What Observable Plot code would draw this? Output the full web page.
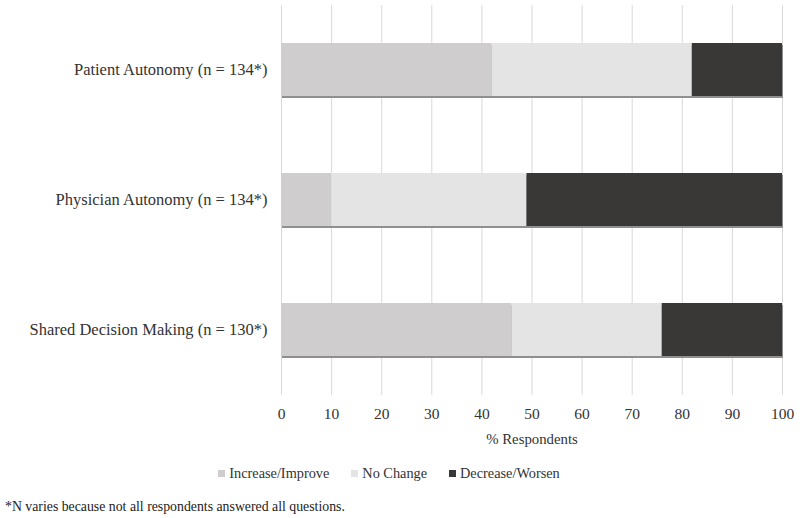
<!DOCTYPE html>
<html>
<head>
<meta charset="utf-8">
<script src="https://cdn.jsdelivr.net/npm/d3@7"></script>
<script src="https://cdn.jsdelivr.net/npm/@observablehq/plot@0.6"></script>
<style>
  body { margin: 0; background: #fff; font-family: "Liberation Serif", serif; }
  #chart { width: 800px; }
  svg text { font-family: "Liberation Serif", serif; }
  .legend { display: flex; justify-content: center; gap: 22px; font-size: 14.3px; color: #333; margin-top: 17px; padding-right: 22px; }
  .legend span.sw { display: inline-block; width: 7px; height: 7px; margin-right: 4px; vertical-align: 1px; }
  .note { font-size: 13.8px; color: #222; margin: 17px 0 0 5px; }
</style>
</head>
<body>
<div id="chart"></div>
<script>
const categories = ["Patient Autonomy (n = 134*)", "Physician Autonomy (n = 134*)", "Shared Decision Making (n = 130*)"];
const seriesNames = ["Increase/Improve", "No Change", "Decrease/Worsen"];
const increaseImprove = [42, 10, 46];
const noChange = [40, 39, 30];
const decreaseWorsen = [18, 51, 24];
const seriesColors = ["#cfcdce", "#e4e4e4", "#3a3836"];
const xTicks = [0, 10, 20, 30, 40, 50, 60, 70, 80, 90, 100];

const seriesValues = [increaseImprove, noChange, decreaseWorsen];
const data = [];
categories.forEach((c, i) => {
  seriesNames.forEach((s, j) => data.push({category: c, series: s, value: seriesValues[j][i]}));
});
const totals = categories.map((c, i) => ({category: c, total: seriesValues.reduce((a, v) => a + v[i], 0)}));

const plot = Plot.plot({
  width: 800,
  height: 448,
  marginLeft: 281,
  marginRight: 18,
  marginTop: 5,
  marginBottom: 53,
  style: {fontFamily: "'Liberation Serif', serif", fontSize: "15px", color: "#333", background: "#fff"},
  x: {domain: [0, 100], ticks: xTicks},
  y: {domain: categories, paddingInner: 0.59, paddingOuter: 0.295},
  color: {domain: seriesNames, range: seriesColors},
  marks: [
    Plot.gridX(xTicks, {stroke: "#d9d9d9", strokeOpacity: 1}),
    Plot.barX(totals, {x1: 0, x2: "total", y: "category", fill: "#8f8f8f", dy: 2, dx: 1}),
    Plot.barX(data, {x: "value", y: "category", fill: "series"}),
    Plot.axisY({tickSize: 0, tickPadding: 14, label: null, fontSize: 16.5}),
    Plot.axisX({ticks: xTicks, tickSize: 0, tickPadding: 12, fontSize: 15.5, label: null}),
    Plot.axisX({ticks: [], tickSize: 0, fontSize: 14.8, label: "% Respondents", labelAnchor: "center", labelArrow: "none", labelOffset: 48})
  ]
});
document.getElementById("chart").appendChild(plot);

const legend = document.createElement("div");
legend.className = "legend";
seriesNames.forEach((s, i) => {
  const item = document.createElement("div");
  const sw = document.createElement("span");
  sw.className = "sw";
  sw.style.background = seriesColors[i];
  item.appendChild(sw);
  item.appendChild(document.createTextNode(s));
  legend.appendChild(item);
});
document.body.appendChild(legend);

const note = document.createElement("div");
note.className = "note";
note.textContent = "*N varies because not all respondents answered all questions.";
document.body.appendChild(note);
</script>
</body>
</html>
